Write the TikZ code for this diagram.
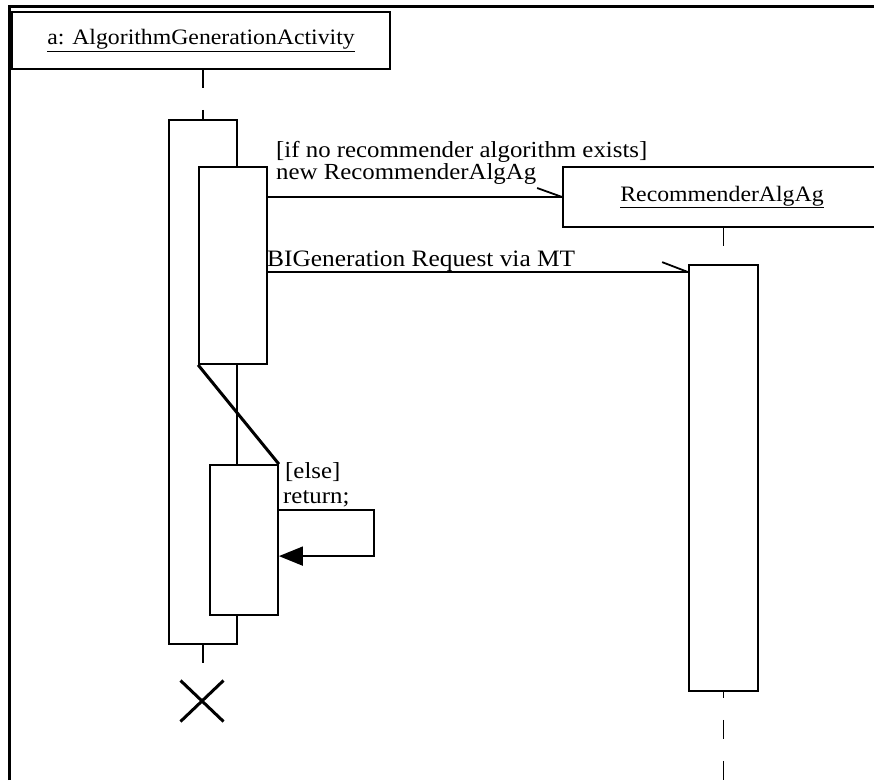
\documentclass[tikz,border=0pt]{standalone}
\usepackage{fontspec}
\setmainfont{Liberation Serif}[FakeStretch=1.08]
\usepackage{tikz}
\usetikzlibrary{positioning,arrows.meta,shapes.misc}
\newcommand{\msgfont}{\fontsize{23}{26}\selectfont}
\newcommand{\objfont}{\fontsize{22}{24}\selectfont}
\tikzset{
  obj/.style={draw,line width=1.8pt,fill=white,inner sep=0pt,font=\objfont},
  act/.style={draw,line width=1.8pt,fill=white,inner sep=0pt},
  msg/.style={line width=1.8pt},
  life/.style={line width=1.8pt,dash pattern=on 18pt off 22pt},
  lbl/.style={anchor=base west,inner sep=0pt,font=\msgfont}
}

\begin{document}
\begin{tikzpicture}[x=1pt,y=-1pt]
\useasboundingbox (0,0) rectangle (874,780);
\clip (0,0) rectangle (874,780);
\draw[line width=3pt] (9.5,780) -- (9.5,6.5) -- (874,6.5);
\node[obj,minimum width=378pt,minimum height=57pt] (objA) at (201,40.5) {\underline{a: AlgorithmGenerationActivity}};
\node[obj,minimum width=318pt,minimum height=60pt] (objB) at (722,197) {\underline{RecommenderAlgAg}};
\node[act,minimum width=68pt,minimum height=524pt] (outerA) at (203,382) {};
\node[act,minimum width=68pt,minimum height=197pt] (innerA) at (233,265.5) {};
\node[act,minimum width=68pt,minimum height=150pt] (lowerA) at (244,540) {};
\node[act,minimum width=69pt,minimum height=426pt] (actB) at (723.5,478) {};
\node[draw,cross out,line width=3pt,minimum width=40pt,minimum height=38pt] (endA) at (202,701) {};
\draw[life] (outerA.north |- objA.south) -- (outerA.north);
\draw[msg] (outerA.south) -- ++(0,18);
\draw[life] (actB.north |- objB.south) -- (actB.north);
\draw[life,dash pattern=on 19pt off 22pt,dash phase=13pt] (actB.south) -- ++(0,89);
\draw[msg] (objB.west -| innerA.east) -- (objB.west);
\draw[msg] (objB.west) -- ++(-25,-9);
\node[lbl] (g1) at (276,157) {[if no recommender algorithm exists]};
\node[lbl] (n1) at (276,179) {new RecommenderAlgAg};
\draw[msg] ([yshift=-8pt]actB.north west) coordinate (m2) -- (m2 -| innerA.east);
\draw[msg] (m2) -- ++(-26,-10);
\node[lbl,font=\fontsize{23.5}{26}\selectfont] (b2) at (267,266) {BIGeneration Request via MT};
\draw[line width=3pt] (innerA.south west) -- (lowerA.north east);
\node[lbl] (g3) at (285,478) {[else]};
\node[lbl] (r3) at (283,503) {return;};
\draw[msg,-{Triangle[length=24pt,width=19pt]}] ([yshift=-46pt]lowerA.north east) -| ([xshift=95pt,yshift=-92pt]lowerA.north east) -- ([yshift=-92pt]lowerA.north east);
\end{tikzpicture}
\end{document}
